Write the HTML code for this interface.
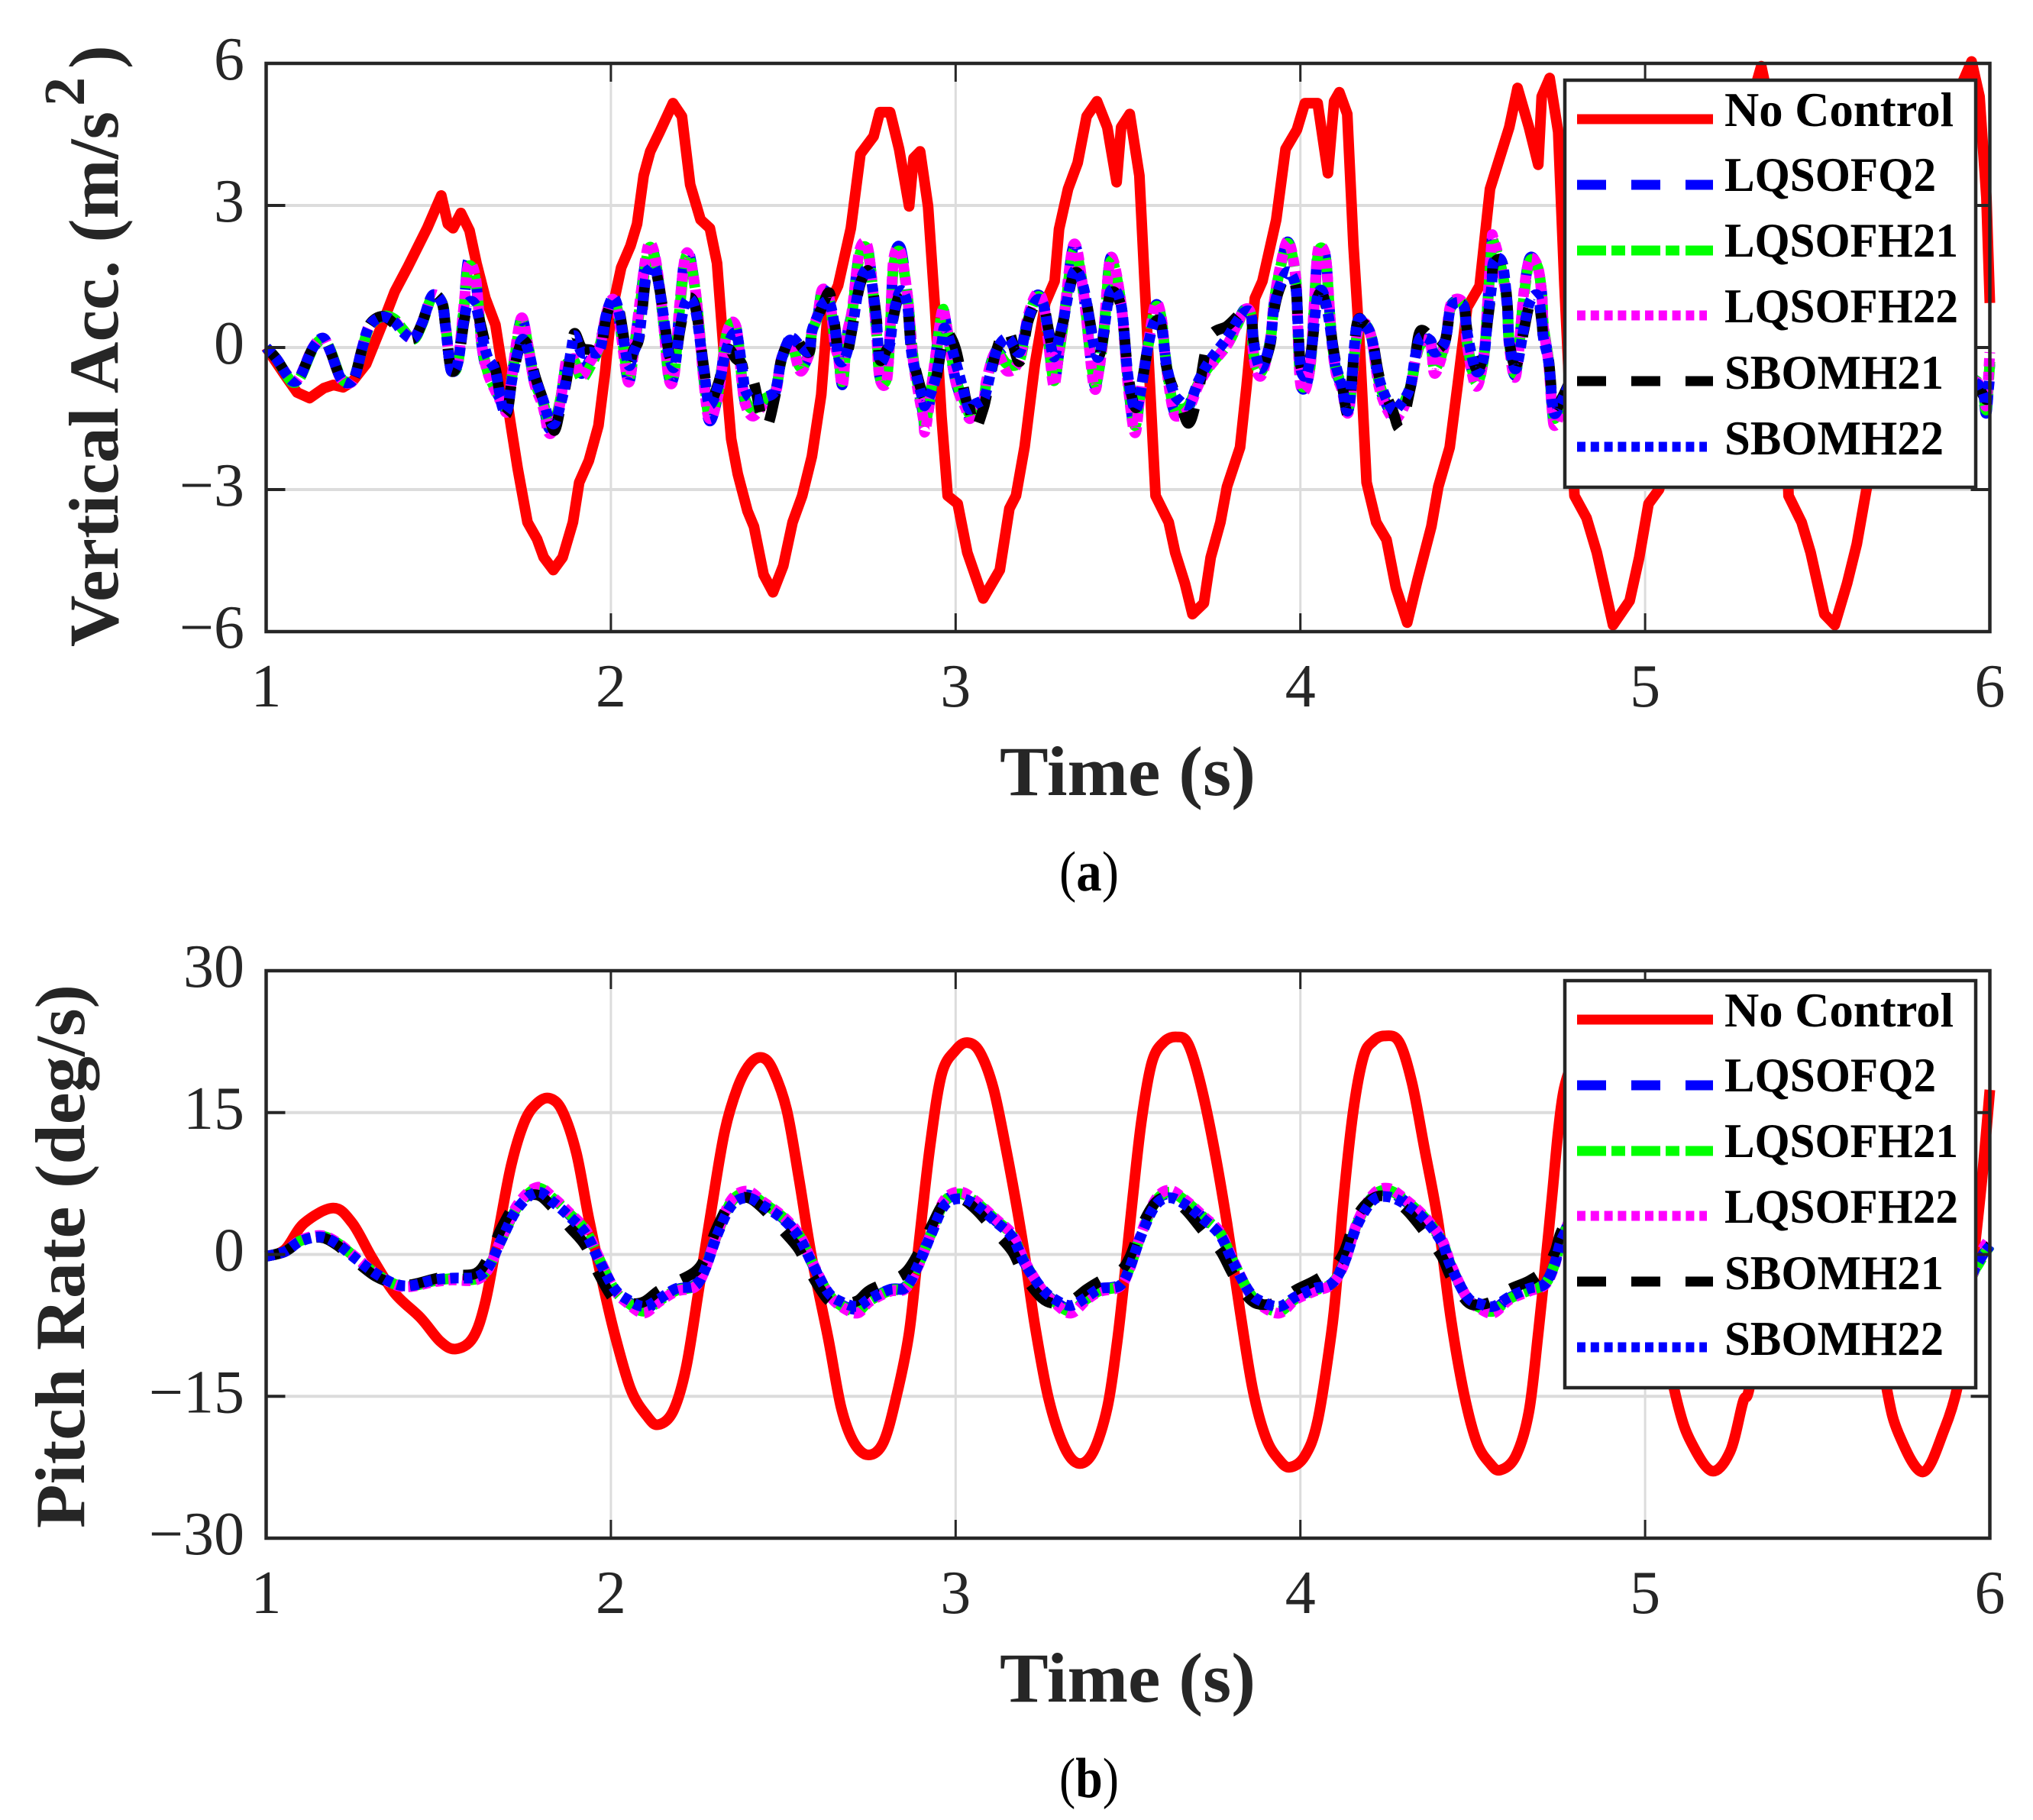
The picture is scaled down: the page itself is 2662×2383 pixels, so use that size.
<!DOCTYPE html>
<html lang="en">
<head>
<meta charset="utf-8">
<title>Vertical acceleration and pitch rate time responses</title>
<style>
html,body{margin:0;padding:0;background:#fff;}
svg{display:block;}
text{font-family:"Liberation Serif",serif;}
.tick{font-size:80px;fill:#262626;}
.title{font-size:92px;font-weight:bold;fill:#262626;}
.leg{font-size:63px;font-weight:bold;fill:#000;}
.cap{font-size:74px;fill:#000;}
</style>
</head>
<body>
<svg id="fig" xmlns="http://www.w3.org/2000/svg" width="2662" height="2383" viewBox="0 0 2662 2383">
<rect width="2662" height="2383" fill="#fff"/>

<g id="a-grid"></g>
<g id="a-series"></g>
<g id="a-axes"></g>
<text class="title" x="1309" y="1041" textLength="335" lengthAdjust="spacingAndGlyphs">Time (s)</text>
<text class="title" transform="translate(154,847) rotate(-90)" textLength="701" lengthAdjust="spacingAndGlyphs">Vertical Acc. (m/s</text>
<text class="title" style="font-size:76px" transform="translate(110,139) rotate(-90)">2</text>
<text class="title" transform="translate(154,90) rotate(-90)">)</text>
<text class="cap" x="1387" y="1166" textLength="78" lengthAdjust="spacingAndGlyphs">(<tspan font-weight="bold">a</tspan>)</text>

<g>
<rect x="2049" y="105" width="538" height="533" fill="#fff" stroke="#262626" stroke-width="4.5"/>
<line x1="2065" x2="2243" y1="156" y2="156" stroke="#f00" stroke-width="13"/>
<line x1="2065" x2="2243" y1="242" y2="242" stroke="#00f" stroke-width="13" stroke-dasharray="38 33"/>
<line x1="2065" x2="2243" y1="328" y2="328" stroke="#0f0" stroke-width="13" stroke-dasharray="38 7 18 8"/>
<line x1="2065" x2="2235" y1="413" y2="413" stroke="#f0f" stroke-width="13" stroke-dasharray="11 6.8"/>
<line x1="2065" x2="2243" y1="499" y2="499" stroke="#000" stroke-width="13" stroke-dasharray="38 33"/>
<line x1="2065" x2="2235" y1="585" y2="585" stroke="#00f" stroke-width="13" stroke-dasharray="11 6.8"/>
<text class="leg" x="2258" y="165" textLength="300" lengthAdjust="spacingAndGlyphs">No Control</text>
<text class="leg" x="2258" y="250" textLength="277" lengthAdjust="spacingAndGlyphs">LQSOFQ2</text>
<text class="leg" x="2258" y="336" textLength="306" lengthAdjust="spacingAndGlyphs">LQSOFH21</text>
<text class="leg" x="2258" y="422" textLength="306" lengthAdjust="spacingAndGlyphs">LQSOFH22</text>
<text class="leg" x="2258" y="509" textLength="287" lengthAdjust="spacingAndGlyphs">SBOMH21</text>
<text class="leg" x="2258" y="595" textLength="287" lengthAdjust="spacingAndGlyphs">SBOMH22</text>
</g>

<g id="b-grid"></g>
<g id="b-series"></g>
<g id="b-axes"></g>
<text class="title" x="1309" y="2228" textLength="335" lengthAdjust="spacingAndGlyphs">Time (s)</text>
<text class="title" transform="translate(110,2001) rotate(-90)" textLength="712" lengthAdjust="spacingAndGlyphs">Pitch Rate (deg/s)</text>
<text class="cap" x="1387" y="2353" textLength="78" lengthAdjust="spacingAndGlyphs">(<tspan font-weight="bold">b</tspan>)</text>

<g>
<rect x="2049" y="1284" width="538" height="533" fill="#fff" stroke="#262626" stroke-width="4.5"/>
<line x1="2065" x2="2243" y1="1335" y2="1335" stroke="#f00" stroke-width="13"/>
<line x1="2065" x2="2243" y1="1421" y2="1421" stroke="#00f" stroke-width="13" stroke-dasharray="38 33"/>
<line x1="2065" x2="2243" y1="1507" y2="1507" stroke="#0f0" stroke-width="13" stroke-dasharray="38 7 18 8"/>
<line x1="2065" x2="2235" y1="1592" y2="1592" stroke="#f0f" stroke-width="13" stroke-dasharray="11 6.8"/>
<line x1="2065" x2="2243" y1="1678" y2="1678" stroke="#000" stroke-width="13" stroke-dasharray="38 33"/>
<line x1="2065" x2="2235" y1="1764" y2="1764" stroke="#00f" stroke-width="13" stroke-dasharray="11 6.8"/>
<text class="leg" x="2258" y="1344" textLength="300" lengthAdjust="spacingAndGlyphs">No Control</text>
<text class="leg" x="2258" y="1429" textLength="277" lengthAdjust="spacingAndGlyphs">LQSOFQ2</text>
<text class="leg" x="2258" y="1515" textLength="306" lengthAdjust="spacingAndGlyphs">LQSOFH21</text>
<text class="leg" x="2258" y="1601" textLength="306" lengthAdjust="spacingAndGlyphs">LQSOFH22</text>
<text class="leg" x="2258" y="1688" textLength="287" lengthAdjust="spacingAndGlyphs">SBOMH21</text>
<text class="leg" x="2258" y="1774" textLength="287" lengthAdjust="spacingAndGlyphs">SBOMH22</text>
</g>
</svg>

<script>
const xTicks = [1,2,3,4,5,6];
const accTicks = [-6,-3,0,3,6];
const pitchTicks = [-30,-15,0,15,30];

const accRedTimes = [1,1.054,1.09,1.126,1.167,1.195,1.223,1.25,1.29,1.336,1.373,1.41,1.467,1.508,1.527,1.542,1.565,1.59,1.61,1.636,1.665,1.683,1.71,1.73,1.758,1.786,1.805,1.833,1.86,1.89,1.908,1.936,1.964,1.983,2,2.03,2.057,2.076,2.095,2.114,2.142,2.18,2.206,2.23,2.26,2.287,2.308,2.33,2.349,2.368,2.396,2.415,2.443,2.47,2.5,2.527,2.555,2.583,2.61,2.63,2.659,2.696,2.724,2.762,2.78,2.81,2.836,2.865,2.878,2.897,2.92,2.94,2.959,2.977,3.006,3.034,3.08,3.128,3.156,3.175,3.2,3.23,3.26,3.287,3.3,3.326,3.354,3.38,3.41,3.44,3.467,3.48,3.505,3.533,3.548,3.565,3.58,3.618,3.637,3.665,3.687,3.72,3.74,3.768,3.787,3.825,3.844,3.868,3.89,3.93,3.957,3.99,4.013,4.05,4.08,4.098,4.113,4.136,4.154,4.173,4.192,4.22,4.25,4.277,4.31,4.34,4.38,4.4,4.433,4.456,4.484,4.52,4.55,4.578,4.606,4.63,4.663,4.69,4.70,4.723,4.748,4.766,4.795,4.83,4.86,4.907,4.955,4.983,5.01,5.04,5.1,5.14,5.2,5.25,5.3,5.337,5.37,5.39,5.407,5.416,5.454,5.48,5.52,5.55,5.586,5.614,5.642,5.7,5.75,5.8,5.85,5.925,5.947,5.97,5.99,6];
const accRedValues = [0,-.58,-.95,-1.07,-.86,-.79,-.84,-.72,-.35,.48,1.18,1.69,2.52,3.21,2.61,2.52,2.84,2.47,1.78,1.04,.48,-.35,-1.65,-2.57,-3.69,-4.05,-4.43,-4.7,-4.43,-3.69,-2.85,-2.39,-1.65,-.54,.67,1.69,2.15,2.61,3.63,4.14,4.56,5.16,4.88,3.44,2.7,2.52,1.78,-.35,-1.93,-2.67,-3.45,-3.78,-4.8,-5.17,-4.61,-3.69,-3.13,-2.3,-1,.85,1.31,2.52,4.09,4.46,4.97,4.97,4.19,2.98,4,4.14,2.98,.85,-1.46,-3.13,-3.3,-4.33,-5.3,-4.7,-3.4,-3.13,-2.1,-.35,.94,1.4,2.5,3.35,3.9,4.88,5.2,4.65,3.49,4.65,4.93,3.63,1.4,-1,-3.13,-3.69,-4.33,-4.98,-5.63,-5.4,-4.43,-3.69,-2.94,-2.11,-.81,1.04,1.4,2.7,4.19,4.6,5.16,5.16,3.68,5.2,5.39,4.93,2.15,-.07,-2.85,-3.69,-4.06,-5.07,-5.81,-4.9,-3.78,-2.94,-2.11,-.81,.85,1.3,3.35,4,4.65,5.48,4.65,3.86,5.3,5.69,4.55,1.31,-3.13,-3.6,-4.33,-5.86,-5.35,-4.43,-3.3,-3,-1.5,1.5,3.6,4.3,5,5.94,4.8,3,-1,-3.13,-3.69,-4.33,-5.63,-5.86,-4.98,-4.15,-3,-1,1.4,3.5,4.5,5.67,6.04,5.3,3.17,.94];

const accCtrlTimes = [1.00,1.03,1.06,1.08,1.10,1.134,1.164,1.185,1.214,1.236,
1.257,1.278,1.30,1.337,1.372,1.397,1.427,1.452,1.482,1.51,
1.52,1.532,1.54,1.557,1.574,1.587,1.608,1.625,1.642,1.665,
1.685,1.70,1.715,1.74,1.76,1.778,1.803,1.82,1.837,1.854,
1.87,1.885,1.895,1.915,1.94,1.968,1.987,2.007,2.025,2.05,
2.066,2.083,2.10,2.113,2.13,2.15,2.168,2.185,2.20,2.22,
2.245,2.27,2.286,2.312,2.337,2.363,2.38,2.39,2.413,2.447,
2.477,2.493,2.515,2.528,2.55,2.575,2.583,2.60,2.613,2.634,
2.65,2.66,2.672,2.685,2.70,2.72,2.74,2.753,2.77,2.78,
2.80,2.81,2.82,2.84,2.86,2.87,2.88,2.905,2.913,2.94,
2.96,2.97,3.00,3.03,3.04,3.055,3.08,3.09,3.117,3.15,
3.185,3.21,3.235,3.255,3.27,3.285,3.30,3.315,3.343,3.37,
3.40,3.415,3.43,3.45,3.48,3.50,3.52,3.535,3.56,3.58,
3.597,3.61,3.63,3.646,3.676,3.705,3.735,3.787,3.816,3.838,
3.857,3.865,3.886,3.912,3.923,3.94,3.964,3.986,3.993,4.00,
4.015,4.03,4.04,4.05,4.063,4.075,4.085,4.093,4.104,4.12,
4.14,4.163,4.185,4.207,4.23,4.266,4.29,4.318,4.333,4.348,
4.377,4.39,4.42,4.437,4.473,4.484,4.51,4.532,4.543,4.555,
4.56,4.585,4.60,4.606,4.625,4.648,4.665,4.688,4.70,4.705,
4.72,4.73,4.738,4.76,4.80,4.90,5.00,5.10,5.20,5.30,
5.40,5.50,5.60,5.70,5.80,5.90,5.96,5.98,5.99,6.00];

const accLqsofq2 = [0,-.24,-.58,-.72,-.6,-.03,.2,-.05,-.62,-.75,
-.62,-.03,.46,.645,.54,.32,.19,.51,1.1,.94,
.46,-.3,-.51,-.3,.9,1.85,1.42,.08,-.55,-.9,
-1.16,-1.3,-.5,.6,0,-.73,-1.2,-1.7,-1.6,-1.1,
-.35,-.25,-.2,-.55,-.25,.1,.7,1,.55,-.7,
-.1,.85,1.8,2.18,1.8,.7,-.6,-.5,.9,2.07,
1.2,-.7,-1.55,-.94,.3,.43,-.7,-1.15,-1.37,-1.1,
-.94,-.3,.13,.05,-.46,-.1,.35,.67,1.2,1,
.08,-.2,-.78,.24,.78,1.96,2.18,1.7,.35,-.62,
-.67,.35,1.8,2.1,1.1,.3,-.4,-1.37,-1.7,-.3,
.78,.6,-.7,-1.26,-1.45,-1.35,-1.2,-.7,-.08,-.3,
-.2,.62,1.1,.9,.1,-.75,-.1,.67,2.15,1.2,
-.7,-.5,.35,1.9,.9,-.73,-1.75,-1,.13,.89,
.6,-.3,-1.26,-1.37,-1.25,-.75,-.35,.1,.5,.8,
.67,-.19,-.56,.13,.89,1.6,2.23,1.5,.35,-.73,
-.83,-.3,.89,1.96,2.18,1.8,.73,.03,-.5,-.83,
-1.3,.2,.5,.2,-.83,-1.4,-1.35,-.89,-.3,.1,
.13,-.5,.13,.89,.9,.08,-.78,-.2,.89,2.18,
2.28,1.6,.89,.08,-.56,1.1,1.88,1.7,1.15,.46,
-.3,-1.26,-1.6,-1.2,-.5,.5,-1,1.5,-.8,-.5,
-.3,-1,1.8,.7,-.8,-.6,-.7,-1,-1.37,-.35];

const accLqsofh21 = [0,-.24,-.6,-.74,-.62,-.05,.18,-.03,-.6,-.73,
-.6,-.05,.44,.66,.6,.38,.17,.49,1.08,.96,
.5,-.25,-.48,-.32,.85,1.7,1.4,.12,-.5,-.88,
-1.12,-1.25,-.52,.55,.03,-.7,-1.15,-1.6,-1.55,-1.08,
-.38,-.35,-.3,-.65,-.4,.05,.68,.98,.6,-.62,
-.12,.8,1.72,2.12,1.78,.72,-.55,-.48,.85,1.95,
1.2,-.65,-1.45,-.9,.32,.42,-.65,-1.1,-1.3,-1.08,
-.92,-.32,.08,0,-.42,-.14,.32,.66,1.15,1,
.1,-.18,-.72,.2,.74,1.9,2.12,1.68,.38,-.6,
-.65,.32,1.72,2,1.08,.32,-.38,-1.3,-1.6,-.32,
.72,.6,-.65,-1.2,-1.4,-1.3,-1.18,-.72,-.12,-.35,
-.28,.58,1.06,.9,.14,-.7,-.12,.64,2.05,1.22,
-.65,-.48,.32,1.82,.92,-.7,-1.65,-.98,.1,.85,
.6,-.27,-1.2,-1.3,-1.22,-.75,-.4,.05,.46,.78,
.68,-.15,-.52,.1,.9,1.62,2.2,1.5,.38,-.68,
-.8,-.32,.85,1.9,2.1,1.78,.72,.06,-.46,-.8,
-1.25,.18,.48,.2,-.78,-1.35,-1.3,-.86,-.32,.06,
.1,-.45,.12,.86,.9,.1,-.74,-.22,.85,2.12,
2.24,1.6,.9,.12,-.52,1.05,1.82,1.7,1.15,.48,
-.28,-1.2,-1.5,-1.15,-.5,.5,-1,1.4,-.8,-.5,
-.3,-1,1.7,.7,-.8,-.6,-.7,-.95,-1.3,-.3];

const accLqsofh22 = [0,-.24,-.57,-.7,-.58,-.02,.2,-.06,-.63,-.76,
-.63,-.02,.47,.64,.56,.33,.2,.52,1.09,.95,
.47,-.28,-.5,-.28,.92,1.75,1.45,.1,-.52,-.92,
-1.2,-1.33,-.48,.62,.02,-.75,-1.25,-1.8,-1.65,-1.12,
-.3,-.28,-.25,-.6,-.3,.05,.72,1.02,.52,-.72,
-.08,.9,1.85,2.2,1.85,.72,-.65,-.52,.95,2,
1.22,-.75,-1.5,-.98,.32,.44,-.72,-1.2,-1.45,-1.15,
-.98,-.28,.1,.02,-.5,-.12,.33,.7,1.22,1.02,
.06,-.22,-.8,.26,.8,2,2.2,1.72,.33,-.65,
-.7,.38,1.85,2.02,1.12,.28,-.45,-1.45,-1.72,-.28,
.74,.62,-.72,-1.3,-1.5,-1.38,-1.18,-.68,-.1,-.5,
-.25,.66,1.13,.92,.06,-.8,-.08,.7,2.18,1.22,
-.78,-.52,.38,1.9,.92,-.78,-1.8,-1.02,.15,.92,
.62,-.32,-1.3,-1.45,-1.3,-.78,-.42,.05,.48,.8,
.68,-.22,-.6,.15,.9,1.65,2.25,1.52,.32,-.75,
-.88,-.28,.92,2,2.12,1.82,.75,0,-.55,-.88,
-1.35,.22,.52,.18,-.88,-1.48,-1.4,-.9,-.28,.1,
.1,-.55,.1,.92,.92,.05,-.82,-.18,.92,2.22,
2.3,1.62,.88,.05,-.6,1.15,1.85,1.72,1.12,.44,
-.33,-1.3,-1.65,-1.25,-.5,.5,-1,1.5,-.8,-.5,
-.3,-1,1.75,.7,-.8,-.6,-.72,-.95,-1.2,-.1];

const accSbomh21 = [0,-.24,-.58,-.72,-.6,-.03,.2,-.05,-.62,-.75,
-.62,-.03,.48,.66,.5,.32,.19,.51,1.1,.94,
.46,-.3,-.51,-.3,.55,.9,.85,.4,-.1,-.45,
-1.3,-1.35,-.6,.1,.02,-.55,-1.1,-1.45,-1.75,-1.25,
-.75,-.05,.3,0,-.05,-.1,.65,1,.75,-.3,
-.05,.25,1.4,1.62,1.62,.85,-.1,-.35,.35,1,
.85,-.45,-1.15,-.75,-.05,-.24,-.35,-.7,-.7,-1.7,
-1,-.3,.15,.35,.05,-.1,.3,.65,.85,1.15,
.45,-.2,-.15,-.15,.4,1.25,1.6,1.5,.65,-.25,
-.05,.1,.65,1.15,.85,.05,-.35,-1,-1,-.75,
.05,.35,-.03,-1.1,-1.25,-1.75,-1.3,-1,-.1,.4,
-.3,.55,.95,.89,.35,-.15,.19,.65,1.55,1.3,
.12,-.2,.3,1.15,.85,-.55,-1.25,-1,.1,.55,
.45,-.35,-.85,-1,-1.6,-.89,.19,.45,.65,.83,
.75,.1,-.4,.05,.75,1.25,1.55,1.3,.55,-.35,
-.55,-.15,.45,1.05,1.15,.85,.55,.1,-.35,-.75,
-1.37,.46,.5,.25,-.65,-1.3,-1.7,-.89,-.2,.35,
.2,-.05,.15,.8,.89,.35,-.45,-.15,.55,1.25,
1.75,1.8,.95,.15,-.4,.35,.9,1.05,.55,.2,
-.25,-1.05,-1.35,-1.05,-.5,.5,-1,1.1,-.8,-.5,
-.3,-1,1.2,.7,-.8,-.6,-.8,-1,-1.1,-.95];

const accSbomh22 = [0,-.24,-.58,-.72,-.6,-.03,.2,-.05,-.62,-.75,
-.62,-.03,.46,.645,.54,.32,.19,.51,1.1,.94,
.46,-.3,-.51,-.3,.6,.95,.88,.3,-.2,-.5,
-1.25,-1.3,-.6,.15,-.05,-.6,-1.1,-1.5,-1.6,-1.2,
-.7,-.05,.25,-.1,-.1,-.05,.7,1.05,.7,-.35,
-.1,.3,1.45,1.65,1.65,.8,-.15,-.4,.4,1,
.8,-.5,-1.2,-.8,0,.3,-.4,-.9,-1.1,-1.05,
-.9,-.3,.15,.2,.03,-.08,.35,.67,.9,.95,
.4,-.2,-.3,-.1,.4,1.3,1.65,1.53,.6,-.3,
-.08,.1,.7,1.2,.9,.03,-.4,-1.1,-1.2,-.7,
.1,.4,-.3,-1.1,-1.3,-1.2,-1.1,-.9,-.1,.2,
-.1,.6,1,.9,.3,-.2,.19,.67,1.6,1.3,
.08,-.2,.35,1.2,.9,-.6,-1.3,-1,.1,.6,
.5,-.3,-.9,-1.1,-1.2,-.7,-.3,.2,.55,.75,
.7,.08,-.45,.1,.8,1.3,1.6,1.3,.5,-.4,
-.6,-.2,.5,1.1,1.2,.9,.5,.05,-.4,-.8,
-1.3,.45,.5,.2,-.7,-1.3,-1.2,-.85,-.2,.2,
.15,-.1,.13,.85,.89,.3,-.5,-.2,.6,1.3,
1.8,1.8,.9,.1,-.45,.4,.95,1.1,.6,.2,
-.3,-1.1,-1.4,-1.1,-.5,.5,-1,1.2,-.8,-.5,
-.3,-1,1.3,.7,-.8,-.6,-.75,-.95,-1.2,-.6];

const pitchRedTimes = [1,1.054,1.11,1.195,1.25,1.308,1.373,1.448,1.505,1.55,1.6,1.636,1.674,1.71,1.749,1.786,1.824,1.86,1.9,1.936,1.974,2.01,2.058,2.105,2.137,2.18,2.218,2.255,2.293,2.33,2.368,2.405,2.44,2.47,2.51,2.546,2.583,2.63,2.668,2.705,2.747,2.79,2.827,2.865,2.893,2.925,2.959,3,3.034,3.07,3.11,3.147,3.175,3.2,3.23,3.27,3.316,3.358,3.4,3.44,3.467,3.486,3.514,3.54,3.57,3.605,3.642,3.674,3.71,3.75,3.787,3.825,3.862,3.9,3.938,3.97,4.013,4.05,4.09,4.107,4.126,4.154,4.183,4.21,4.243,4.286,4.324,4.36,4.4,4.437,4.475,4.512,4.55,4.58,4.625,4.663,4.69,4.71,4.73,4.748,4.766,4.8,4.85,4.9,4.95,5,5.05,5.096,5.134,5.194,5.247,5.284,5.303,5.35,5.4,5.45,5.5,5.55,5.6,5.65,5.70,5.736,5.806,5.868,5.906,5.93,5.96,5.98,6];
const pitchRedValues = [-.2,.5,3.3,4.9,3.3,-.4,-4.1,-6.7,-9.2,-10,-8.8,-5,2.4,9.3,14,16,16.5,15.1,10.7,3.8,-2.7,-8.3,-14.3,-17.1,-18,-16.6,-12,-3.7,5.1,13,17.7,20.2,20.8,19.5,15.3,7.9,-.4,-8.8,-16.2,-19.9,-21.2,-19.9,-15.2,-8.3,1,11.2,19,21.6,22.4,21.4,17.5,11,5.5,0,-7.5,-15.3,-20.4,-22.1,-20.8,-16.2,-9.7,-3.7,6.1,14.4,20.4,22.5,23,22.3,18.1,11.2,3.3,-6,-14.3,-19.4,-21.7,-22.5,-21.3,-17.6,-8.3,-2.3,6.1,15.3,20.9,22.5,23.1,22.5,18.1,11.2,3.3,-6.9,-14.8,-19.9,-22.1,-22.8,-21.3,-16.6,-8.3,-1.3,6.1,13,17.7,21,23,21.5,15,3,-8,-16,-19.9,-22.9,-20.8,-15.6,-14,-4,8,19,23,20,10,-2,-14,-19,-23,-18.5,-14,-8,2,9,17.4];

const pitchCtrlTimes = [1,1.054,1.10,1.158,1.205,1.26,1.317,1.373,1.42,1.486,
1.54,1.608,1.645,1.683,1.73,1.786,1.833,1.88,1.927,1.964,
2.01,2.05,2.096,2.14,2.19,2.245,2.274,2.31,2.35,2.396,
2.44,2.5,2.546,2.583,2.63,2.668,2.715,2.75,2.81,2.855,
2.893,2.93,2.968,3.015,3.06,3.118,3.165,3.2,3.25,3.29,
3.335,3.38,3.42,3.476,3.505,3.54,3.58,3.62,3.665,3.72,
3.768,3.806,3.853,3.89,3.94,3.985,4.04,4.09,4.126,4.164,
4.21,4.254,4.305,4.36,4.41,4.437,4.484,4.52,4.56,4.606,
4.663,4.71,4.738,4.766,4.85,5,5.07,5.2,5.35,5.5,
5.62,5.8,5.93,5.96,5.98,6];

const pitchLqsofq2 = [-.2,.3,1.4,1.9,1.2,-.4,-2,-3.1,-3.3,-2.7,
-2.5,-2.5,-1.3,1.7,5.1,6.8,5.8,4.2,2.4,-.4,
-3.7,-5,-5.8,-4.8,-3.7,-3.2,-1.3,2.4,5.6,6.3,
5.4,3.8,1.9,-.9,-4.1,-5.3,-5.8,-4.8,-3.7,-3.4,
-.9,2.4,5.6,6.2,5.4,3.5,1.9,-.9,-3.7,-5,
-5.8,-4.6,-3.7,-3.2,-1.3,2.4,5.6,6.4,5.6,3.8,
2.1,-.9,-4.1,-5.3,-5.8,-4.6,-3.7,-3,-.9,3.3,
6.1,6.6,5.6,3.8,1.4,-1.3,-4.6,-5.5,-5.8,-4.6,
-3.7,-3,-.9,2.4,6.5,-4,-6,-3,6.5,-1,
-6,-3,-2.5,-1.3,0,1];

const pitchLqsofh21 = [-.2,.3,1.45,1.95,1.25,-.35,-2,-3.15,-3.35,-2.8,
-2.55,-2.6,-1.4,1.6,5.1,7,5.9,4.3,2.5,-.3,
-3.7,-5.1,-6,-4.9,-3.8,-3.3,-1.4,2.3,5.6,6.5,
5.5,3.9,2,-.8,-4.1,-5.4,-6,-4.9,-3.8,-3.5,
-1,2.3,5.6,6.4,5.5,3.6,2,-.8,-3.7,-5.1,
-6,-4.7,-3.8,-3.3,-1.4,2.3,5.6,6.6,5.7,3.9,
2.2,-.8,-4.1,-5.4,-6,-4.7,-3.8,-3.1,-1,3.2,
6.1,6.8,5.7,3.9,1.5,-1.2,-4.6,-5.6,-6,-4.7,
-3.8,-3.1,-1,2.3,6.5,-4,-6,-3,6.5,-1,
-6,-3,-2.6,-1.4,-.2,.9];

const pitchLqsofh22 = [-.2,.3,1.5,2,1.3,-.3,-2,-3.2,-3.4,-2.9,
-2.7,-2.7,-1.5,1.7,5.3,7.1,6,4.4,2.6,-.2,
-3.7,-5.2,-6.2,-5,-3.9,-3.4,-1.5,2.4,5.8,6.7,
5.6,4,2.1,-.7,-4.1,-5.5,-6.2,-5,-3.9,-3.6,
-1.1,2.4,5.8,6.6,5.6,3.7,2.1,-.7,-3.7,-5.2,
-6.2,-4.8,-3.9,-3.4,-1.5,2.4,5.8,6.8,5.8,4,
2.3,-.7,-4.1,-5.5,-6.2,-4.8,-3.9,-3.2,-1.1,3.3,
6.3,7,5.8,4,1.6,-1.1,-4.6,-5.7,-6.2,-4.8,
-3.9,-3.2,-1.1,2.4,6.6,-4,-6.2,-3.2,6.6,-1,
-6.2,-3.2,-2.7,-1.1,.6,1.7];

const pitchSbomh21 = [-.2,.3,1.4,1.8,1,-.7,-2.3,-3.1,-3.2,-2.6,
-2.2,-2,-.3,2.8,5.6,6.3,4.9,2.9,.9,-2,
-4.8,-5.2,-5,-3.8,-2.9,-1.8,-.3,3,5.6,6,
4.9,2.5,.5,-2.2,-4.8,-5.2,-4.9,-3.8,-2.8,-1.9,
.2,3,5.5,5.9,4.7,2.3,.3,-2.3,-4.6,-5.2,
-4.9,-3.7,-2.8,-1.8,-.3,3,5.5,6,4.8,2.4,
.4,-2.2,-4.7,-5.3,-5,-3.8,-2.8,-1.6,.2,4,
5.9,6.1,4.8,2.4,-.2,-2.4,-5,-5.3,-4.9,-3.7,
-2.8,-1.6,.2,3,5.8,-4,-5,-2,5.8,-2,
-5,-2,-1.6,-.5,.4,.9];

const pitchSbomh22 = [-.2,.3,1.4,1.85,1.15,-.45,-2,-3.1,-3.3,-2.7,
-2.5,-2.4,-1.3,1.6,4.9,6.6,5.5,4,2.2,-.5,
-3.6,-4.8,-5.5,-4.7,-3.6,-3.3,-1.5,2.2,5.2,6,
5.2,3.7,1.8,-.9,-4,-5,-5.5,-4.7,-3.7,-3.5,
-1,2.2,5.2,5.9,5.2,3.4,1.8,-.9,-3.6,-4.8,
-5.4,-4.5,-3.6,-3.3,-1.4,2.2,5.2,6,5.3,3.7,
2,-.9,-4,-5,-5.5,-4.5,-3.6,-3.1,-1,3,
5.7,6.1,5.3,3.7,1.3,-1.3,-4.5,-5.2,-5.5,-4.5,
-3.6,-3.1,-1,2.2,5.9,-3.8,-5.5,-2.8,5.9,-1,
-5.5,-2.8,-2.4,-1.2,0,.9];

const svgNS = 'http://www.w3.org/2000/svg';
const plotLeft = 348.5, plotRight = 2605.5;
const xScale = t => plotLeft + (t - 1) * (plotRight - plotLeft) / 5;
const accY = v => 455 - 62 * v;
const pitchY = v => 1642.5 - (2014 - 1271) / 60 * v;

function makeNode(tag, attrs, parent) {
  const node = document.createElementNS(svgNS, tag);
  for (const k in attrs) node.setAttribute(k, attrs[k]);
  parent.appendChild(node);
  return node;
}

function linePath(times, values, yScale) {
  return times.map((t, i) => (i ? 'L' : 'M') + xScale(t).toFixed(1) + ' ' + yScale(values[i]).toFixed(1)).join('');
}

function smoothPath(times, values, yScale) {
  const px = times.map(xScale), py = values.map(yScale);
  let d = 'M' + px[0].toFixed(1) + ' ' + py[0].toFixed(1);
  for (let i = 0; i < px.length - 1; i++) {
    const a = Math.max(i - 1, 0), c = i + 1, e = Math.min(i + 2, px.length - 1);
    const c1x = px[i] + (px[c] - px[a]) / 6, c1y = py[i] + (py[c] - py[a]) / 6;
    const c2x = px[c] - (px[e] - px[i]) / 6, c2y = py[c] - (py[e] - py[i]) / 6;
    d += 'C' + c1x.toFixed(1) + ' ' + c1y.toFixed(1) + ' ' + c2x.toFixed(1) + ' ' + c2y.toFixed(1) + ' ' + px[c].toFixed(1) + ' ' + py[c].toFixed(1);
  }
  return d;
}

function drawSeries(parent, pathData, colour, dash, seriesName) {
  const el = makeNode('path', {d: pathData, fill: 'none', stroke: colour, 'stroke-width': 14, 'stroke-linejoin': 'round'}, parent);
  if (dash) el.setAttribute('stroke-dasharray', dash);
  
  
}

function drawFrame(gridId, axesId, yTicks, yScale, top, bottom, prefix) {
  const grid = document.getElementById(gridId), axes = document.getElementById(axesId);
  xTicks.forEach(t => {
    const x = xScale(t);
    if (t > 1 && t < 6) {
      const gl = makeNode('line', {x1: x, x2: x, y1: top, y2: bottom, stroke: '#dcdcdc', 'stroke-width': 3}, grid);
      
      
      [[bottom, bottom - 24], [top, top + 24]].forEach(p => {
        const tk = makeNode('line', {x1: x, x2: x, y1: p[0], y2: p[1], stroke: '#262626', 'stroke-width': 3}, axes);
        
        
      });
    }
    const lab = makeNode('text', {x: x, y: bottom + 98, 'text-anchor': 'middle', class: 'tick'}, axes);
    lab.textContent = String(t);
    
    
  });
  yTicks.forEach(v => {
    const y = yScale(v);
    if (v !== yTicks[0] && v !== yTicks[yTicks.length - 1]) {
      const gl = makeNode('line', {x1: plotLeft, x2: plotRight, y1: y, y2: y, stroke: '#dcdcdc', 'stroke-width': 4}, grid);
      
      
      [[plotLeft, plotLeft + 25], [plotRight, plotRight - 25]].forEach(p => {
        const tk = makeNode('line', {x1: p[0], x2: p[1], y1: y, y2: y, stroke: '#262626', 'stroke-width': 4}, axes);
        
        
      });
    }
    const lab = makeNode('text', {x: 320, y: y + 21, 'text-anchor': 'end', class: 'tick'}, axes);
    lab.textContent = (v < 0 ? '\u2212' : '') + Math.abs(v);
    
    
  });
  const box = makeNode('rect', {x: plotLeft, y: top, width: plotRight - plotLeft, height: bottom - top, fill: 'none', stroke: '#262626', 'stroke-width': 4.5}, axes);
  
  
}

drawFrame('a-grid', 'a-axes', accTicks, accY, 83, 827, 'accel');
drawFrame('b-grid', 'b-axes', pitchTicks, pitchY, 1271, 2014, 'pitch');

const dashLong = '38 33', dashDot = '38 7 18 8', dotted = '11 6.8';
const aGroup = document.getElementById('a-series');
drawSeries(aGroup, linePath(accRedTimes, accRedValues, accY), '#f00', '', 'accel-no-control-line');
drawSeries(aGroup, smoothPath(accCtrlTimes, accLqsofq2, accY), '#00f', dashLong, 'accel-lqsofq2-line');
drawSeries(aGroup, smoothPath(accCtrlTimes, accLqsofh21, accY), '#0f0', dashDot, 'accel-lqsofh21-line');
drawSeries(aGroup, smoothPath(accCtrlTimes, accLqsofh22, accY), '#f0f', dotted, 'accel-lqsofh22-line');
drawSeries(aGroup, smoothPath(accCtrlTimes, accSbomh21, accY), '#000', dashLong, 'accel-sbomh21-line');
drawSeries(aGroup, smoothPath(accCtrlTimes, accSbomh22, accY), '#00f', dotted, 'accel-sbomh22-line');

const bGroup = document.getElementById('b-series');
drawSeries(bGroup, smoothPath(pitchRedTimes, pitchRedValues, pitchY), '#f00', '', 'pitch-no-control-line');
drawSeries(bGroup, smoothPath(pitchCtrlTimes, pitchLqsofq2, pitchY), '#00f', dashLong, 'pitch-lqsofq2-line');
drawSeries(bGroup, smoothPath(pitchCtrlTimes, pitchLqsofh21, pitchY), '#0f0', dashDot, 'pitch-lqsofh21-line');
drawSeries(bGroup, smoothPath(pitchCtrlTimes, pitchLqsofh22, pitchY), '#f0f', dotted, 'pitch-lqsofh22-line');
drawSeries(bGroup, smoothPath(pitchCtrlTimes, pitchSbomh21, pitchY), '#000', dashLong, 'pitch-sbomh21-line');
drawSeries(bGroup, smoothPath(pitchCtrlTimes, pitchSbomh22, pitchY), '#00f', dotted, 'pitch-sbomh22-line');
</script>
</body>
</html>
